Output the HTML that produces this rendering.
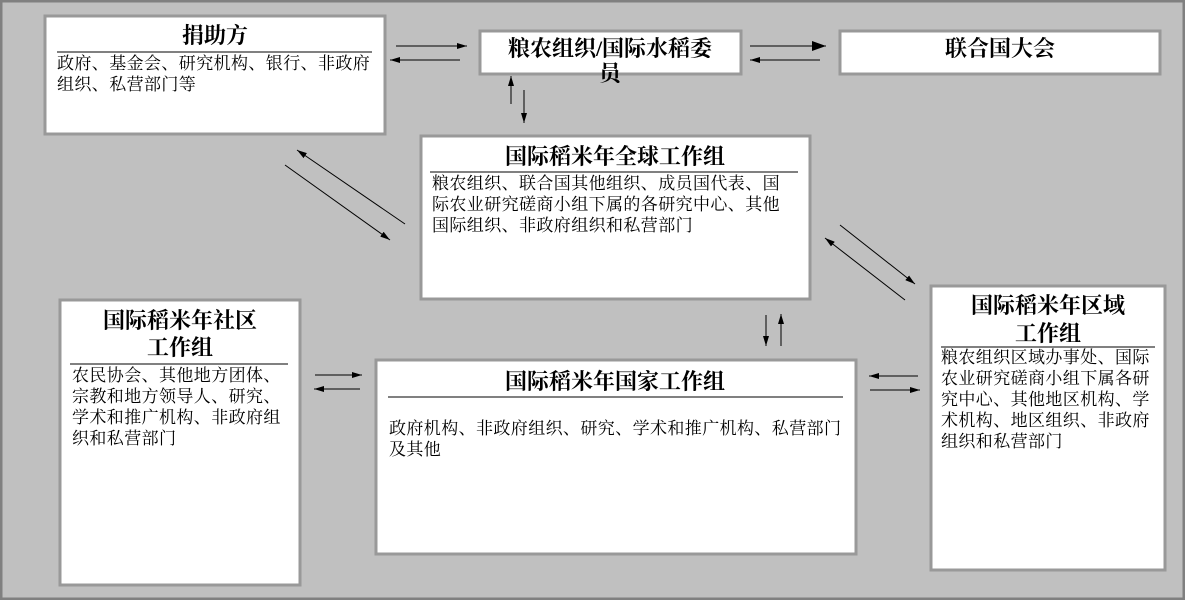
<!DOCTYPE html>
<html><head><meta charset="utf-8"><style>
html,body{margin:0;padding:0;background:#c0c0c0;}
svg{display:block;}
text{font-family:"Liberation Serif","Noto Serif CJK SC",serif;fill:#000;}
.t{font-size:22px;font-weight:bold;}
.b{font-size:17px;letter-spacing:0.4px;}
rect.bx{fill:#fff;stroke:#999;stroke-width:3;}
line{stroke:#000;stroke-width:1;}
</style></head><body>
<svg width="1185" height="600" viewBox="0 0 1185 600" xmlns="http://www.w3.org/2000/svg">
<defs>
<marker id="a" viewBox="0 0 10 6" refX="10" refY="3" markerWidth="10" markerHeight="6" orient="auto" markerUnits="userSpaceOnUse"><path d="M0,0 L10,3 L0,6 z" fill="#000"/></marker>
<marker id="b" viewBox="0 0 14 10" refX="14" refY="5" markerWidth="14" markerHeight="10" orient="auto" markerUnits="userSpaceOnUse"><path d="M0,0 L14,5 L0,10 z" fill="#000"/></marker>
</defs>
<rect x="1" y="1" width="1183" height="598" fill="#c0c0c0" stroke="#808080" stroke-width="3"/>

<!-- donor -->
<rect class="bx" x="45" y="16" width="340" height="118"/>
<text class="t" x="215" y="43" text-anchor="middle">捐助方</text>
<line x1="57" y1="52" x2="372" y2="52"/>
<text class="b" x="57" y="69">政府、基金会、研究机构、银行、非政府</text>
<text class="b" x="57" y="90">组织、私营部门等</text>

<!-- FAO -->
<rect class="bx" x="480" y="31" width="261" height="43"/>
<text class="t" x="610" y="56" text-anchor="middle">粮农组织/国际水稻委</text>
<text class="t" x="610" y="81" text-anchor="middle">员</text>

<!-- UNGA -->
<rect class="bx" x="840" y="31" width="320" height="43"/>
<text class="t" x="1000" y="56" text-anchor="middle">联合国大会</text>

<!-- Global -->
<rect class="bx" x="421" y="136" width="389" height="163"/>
<text class="t" x="615" y="164" text-anchor="middle">国际稻米年全球工作组</text>
<line x1="430" y1="172" x2="798" y2="172"/>
<text class="b" x="432" y="189">粮农组织、联合国其他组织、成员国代表、国</text>
<text class="b" x="432" y="210">际农业研究磋商小组下属的各研究中心、其他</text>
<text class="b" x="432" y="231">国际组织、非政府组织和私营部门</text>

<!-- Community -->
<rect class="bx" x="60" y="300" width="240" height="285"/>
<text class="t" x="180" y="328" text-anchor="middle">国际稻米年社区</text>
<text class="t" x="180" y="355" text-anchor="middle">工作组</text>
<line x1="70" y1="364" x2="288" y2="364"/>
<text class="b" x="72" y="381">农民协会、其他地方团体、</text>
<text class="b" x="72" y="402">宗教和地方领导人、研究、</text>
<text class="b" x="72" y="423">学术和推广机构、非政府组</text>
<text class="b" x="72" y="444">织和私营部门</text>

<!-- National -->
<rect class="bx" x="376" y="360" width="480" height="194"/>
<text class="t" x="615" y="389" text-anchor="middle">国际稻米年国家工作组</text>
<line x1="388" y1="397" x2="843" y2="397"/>
<text class="b" x="389" y="434">政府机构、非政府组织、研究、学术和推广机构、私营部门</text>
<text class="b" x="389" y="455">及其他</text>

<!-- Regional -->
<rect class="bx" x="931" y="286" width="234" height="284"/>
<text class="t" x="1048" y="313" text-anchor="middle">国际稻米年区域</text>
<text class="t" x="1048" y="341" text-anchor="middle">工作组</text>
<line x1="941" y1="347" x2="1155" y2="347"/>
<text class="b" x="941" y="363">粮农组织区域办事处、国际</text>
<text class="b" x="941" y="384">农业研究磋商小组下属各研</text>
<text class="b" x="941" y="405">究中心、其他地区机构、学</text>
<text class="b" x="941" y="426">术机构、地区组织、非政府</text>
<text class="b" x="941" y="447">组织和私营部门</text>

<!-- arrows -->
<line x1="396" y1="46" x2="467" y2="46" marker-end="url(#a)"/>
<line x1="460" y1="60" x2="390" y2="60" marker-end="url(#a)"/>
<line x1="750" y1="46" x2="826" y2="46" stroke-width="3" marker-end="url(#b)"/>
<line x1="820" y1="60" x2="750" y2="60" marker-end="url(#a)"/>
<line x1="511" y1="104" x2="511" y2="76" marker-end="url(#a)"/>
<line x1="524" y1="90" x2="524" y2="123" marker-end="url(#a)"/>
<line x1="405" y1="224" x2="297" y2="150" marker-end="url(#a)"/>
<line x1="285" y1="165" x2="390" y2="240" marker-end="url(#a)"/>
<line x1="840" y1="225" x2="915" y2="284" marker-end="url(#a)"/>
<line x1="905" y1="300" x2="825" y2="238" marker-end="url(#a)"/>
<line x1="766" y1="315" x2="766" y2="346" marker-end="url(#a)"/>
<line x1="781" y1="346" x2="781" y2="314" marker-end="url(#a)"/>
<line x1="315" y1="375" x2="362" y2="375" marker-end="url(#a)"/>
<line x1="360" y1="389" x2="314" y2="389" marker-end="url(#a)"/>
<line x1="918" y1="376" x2="869" y2="376" marker-end="url(#a)"/>
<line x1="870" y1="390" x2="920" y2="390" marker-end="url(#a)"/>
</svg>
</body></html>
